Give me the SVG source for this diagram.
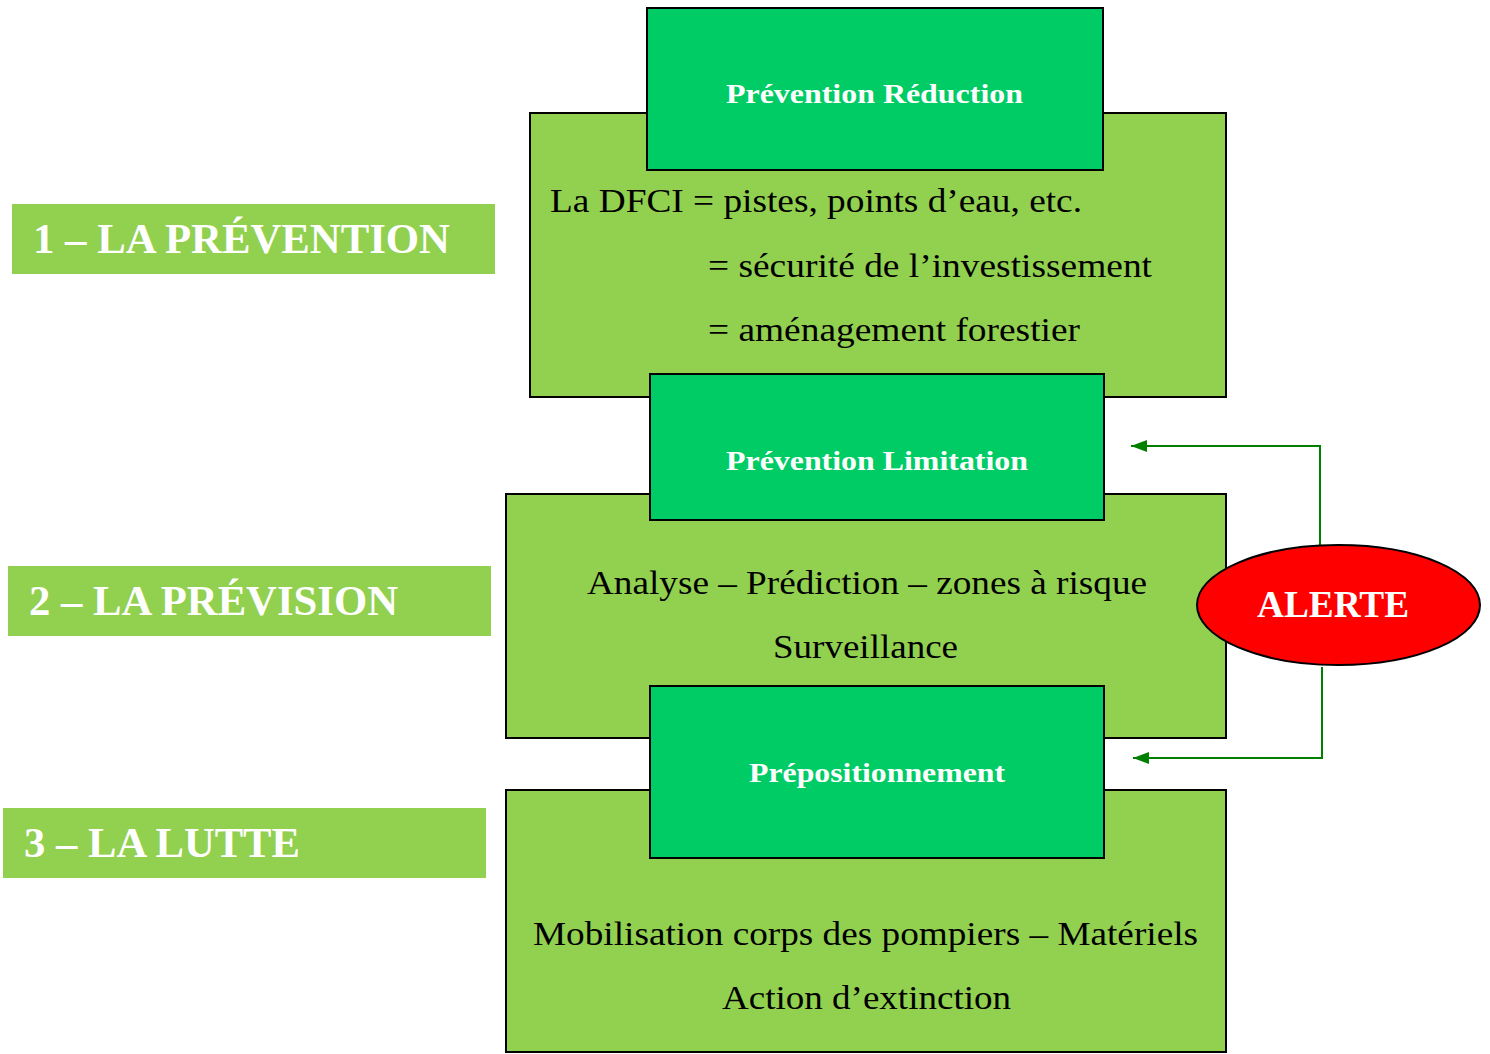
<svg xmlns="http://www.w3.org/2000/svg" width="1490" height="1054" viewBox="0 0 1490 1054">
<defs>
<style>
.big{fill:#92D050;stroke:#000;stroke-width:2}
.top{fill:#00CC66;stroke:#000;stroke-width:2}
.lab{fill:#92D050}
.t{font-family:"Liberation Serif","Times New Roman",serif;fill:#000;font-size:34px}
.tw{font-family:"Liberation Serif","Times New Roman",serif;fill:#fff;font-weight:bold;font-size:28px}
.tl{font-family:"Liberation Serif","Times New Roman",serif;fill:#fff;font-weight:bold;font-size:42px}
.conn{fill:none;stroke:#008000;stroke-width:2}
</style>
<marker id="ah" viewBox="0 0 16 12" refX="16" refY="6" markerWidth="16" markerHeight="12" markerUnits="userSpaceOnUse" orient="auto">
<path d="M0,0 L16,6 L0,12 z" fill="#008000"/>
</marker>
</defs>
<rect width="1490" height="1054" fill="#fff"/>
<g id="label1"><rect class="lab" x="12" y="204" width="483" height="70"/><text class="tl" x="33" y="253" textLength="417" lengthAdjust="spacingAndGlyphs">1 – LA PRÉVENTION</text></g>
<g id="label2"><rect class="lab" x="8" y="566" width="483" height="70"/><text class="tl" x="29" y="615" textLength="369" lengthAdjust="spacingAndGlyphs">2 – LA PRÉVISION</text></g>
<g id="label3"><rect class="lab" x="3" y="808" width="483" height="70"/><text class="tl" x="24" y="857" textLength="276" lengthAdjust="spacingAndGlyphs">3 – LA LUTTE</text></g>
<g id="box1"><rect class="big" x="530" y="113" width="696" height="284"/>
<text class="t" x="550" y="212" textLength="532" lengthAdjust="spacingAndGlyphs">La DFCI = pistes, points d’eau, etc.</text>
<text class="t" x="708" y="277" textLength="444" lengthAdjust="spacingAndGlyphs">= sécurité de l’investissement</text>
<text class="t" x="708" y="341" textLength="372" lengthAdjust="spacingAndGlyphs">= aménagement forestier</text></g>
<g id="top1"><rect class="top" x="647" y="8" width="456" height="162"/><text class="tw" x="726" y="103" textLength="297" lengthAdjust="spacingAndGlyphs">Prévention Réduction</text></g>
<g id="box2"><rect class="big" x="506" y="494" width="720" height="244"/>
<text class="t" x="587" y="594" textLength="560" lengthAdjust="spacingAndGlyphs">Analyse – Prédiction – zones à risque</text>
<text class="t" x="773" y="658" textLength="185" lengthAdjust="spacingAndGlyphs">Surveillance</text></g>
<g id="top2"><rect class="top" x="650" y="374" width="454" height="146"/><text class="tw" x="726" y="470" textLength="302" lengthAdjust="spacingAndGlyphs">Prévention Limitation</text></g>
<g id="box3"><rect class="big" x="506" y="790" width="720" height="262"/>
<text class="t" x="533" y="945" textLength="665" lengthAdjust="spacingAndGlyphs">Mobilisation corps des pompiers – Matériels</text>
<text class="t" x="722" y="1009" textLength="289" lengthAdjust="spacingAndGlyphs">Action d’extinction</text></g>
<g id="top3"><rect class="top" x="650" y="686" width="454" height="172"/><text class="tw" x="749" y="782" textLength="256" lengthAdjust="spacingAndGlyphs">Prépositionnement</text></g>
<g id="connectors">
<path class="conn" d="M1320,545 V446 H1131" marker-end="url(#ah)"/>
<path class="conn" d="M1322,667 V758 H1133" marker-end="url(#ah)"/>
</g>
<g id="alerte"><ellipse cx="1338.5" cy="605" rx="141.5" ry="60" fill="#FF0000" stroke="#000" stroke-width="2"/>
<text class="tl" style="font-size:38px" x="1257" y="617" textLength="152" lengthAdjust="spacingAndGlyphs">ALERTE</text></g>
</svg>
